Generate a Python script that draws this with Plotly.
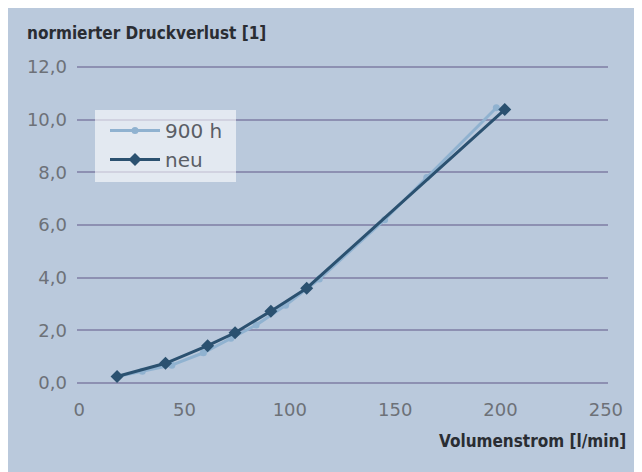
import plotly.graph_objects as go

# Data
x_900h = [18, 30, 44, 59, 72, 84, 98, 114, 145, 165, 198]
y_900h = [0.25, 0.45, 0.68, 1.15, 1.7, 2.2, 2.95, 3.95, 6.2, 7.8, 10.45]
x_neu = [18, 41, 61, 74, 91, 108, 202]
y_neu = [0.25, 0.75, 1.42, 1.91, 2.73, 3.6, 10.38]

x_ticks = [0, 50, 100, 150, 200, 250]
y_ticks = [0, 2, 4, 6, 8, 10, 12]
y_ticklabels = ["0,0", "2,0", "4,0", "6,0", "8,0", "10,0", "12,0"]

BG = "#bac9dc"
GRID = "#8d90b2"
TXT = "#6d7178"
TICK_FONT = "DejaVu Sans, Verdana, sans-serif"
TITLE_FONT = "Liberation Sans Narrow, DejaVu Sans Condensed, Arial Narrow, sans-serif"

# page has an 8px body margin; figure sized to fit the window
OFF = 8
W, H = 634, 464
# desired pixel positions (page coords) of x=0 / x=250 and y=0 / y=12
X0, X1 = 79 - OFF, 606 - OFF
Y0, Y12 = 383 - OFF, 67 - OFF
XPAD, YPAD = 1.0, 0.15
sx = (X1 - X0) / 250.0
sy = (Y0 - Y12) / 12.0
L = round(X0 - XPAD * sx)
R = round(W - (X1 + XPAD * sx))
T = round(Y12 - YPAD * sy)
B = round(H - (Y0 + YPAD * sy))
PW, PH = W - L - R, H - T - B


def px(xp):
    return (xp - OFF - L) / PW


def py(yp):
    return 1 - (yp - OFF - T) / PH


fig = go.Figure()
fig.add_trace(go.Scatter(
    x=x_900h, y=y_900h, name="900 h", mode="lines+markers",
    line=dict(color="#90b2d0", width=3),
    marker=dict(symbol="circle", size=7, color="#90b2d0"),
    cliponaxis=False,
))
fig.add_trace(go.Scatter(
    x=x_neu, y=y_neu, name="neu", mode="lines+markers",
    line=dict(color="#2b5170", width=3),
    marker=dict(symbol="diamond", size=10, color="#2b5170"),
    cliponaxis=False,
))

fig.update_layout(
    width=W, height=H,
    margin=dict(l=L, r=R, t=T, b=B, autoexpand=False),
    paper_bgcolor=BG, plot_bgcolor=BG,
    font=dict(family=TICK_FONT, color=TXT, size=18),
    showlegend=True,
    legend=dict(
        x=px(105), y=py(111), xanchor="left", yanchor="top",
        bgcolor="rgba(0,0,0,0)", borderwidth=0,
        font=dict(family=TICK_FONT, size=20, color="#5a5e66"),
        itemwidth=50, tracegroupgap=0,
    ),
    xaxis=dict(
        range=[-XPAD, 250 + XPAD], tickvals=x_ticks, showgrid=False, zeroline=False,
        showline=False, ticks="", tickfont=dict(size=18, color=TXT),
        ticklabelstandoff=10,
    ),
    yaxis=dict(
        range=[-YPAD, 12 + YPAD], tickvals=y_ticks, ticktext=y_ticklabels,
        showgrid=True, gridcolor=GRID, gridwidth=2, zeroline=False,
        showline=False, ticks="", tickfont=dict(size=18, color=TXT),
        ticklabelstandoff=9,
    ),
    shapes=[
        dict(type="rect", xref="paper", yref="paper",
             x0=px(95), x1=px(236), y0=py(182), y1=py(110),
             fillcolor="rgba(255,255,255,0.6)", line_width=0, layer="above"),
    ],
    annotations=[
        dict(text="<b>normierter Druckverlust [1]</b>", xref="paper", yref="paper",
             x=px(25), y=py(33), xanchor="left", yanchor="middle",
             showarrow=False, font=dict(family=TITLE_FONT, size=17, color="#2a2d33")),
        dict(text="<b>Volumenstrom [l/min]</b>", xref="paper", yref="paper",
             x=px(628), y=py(441), xanchor="right", yanchor="middle",
             showarrow=False, font=dict(family=TITLE_FONT, size=17, color="#2a2d33")),
    ],
)

fig.write_html("out.html")
